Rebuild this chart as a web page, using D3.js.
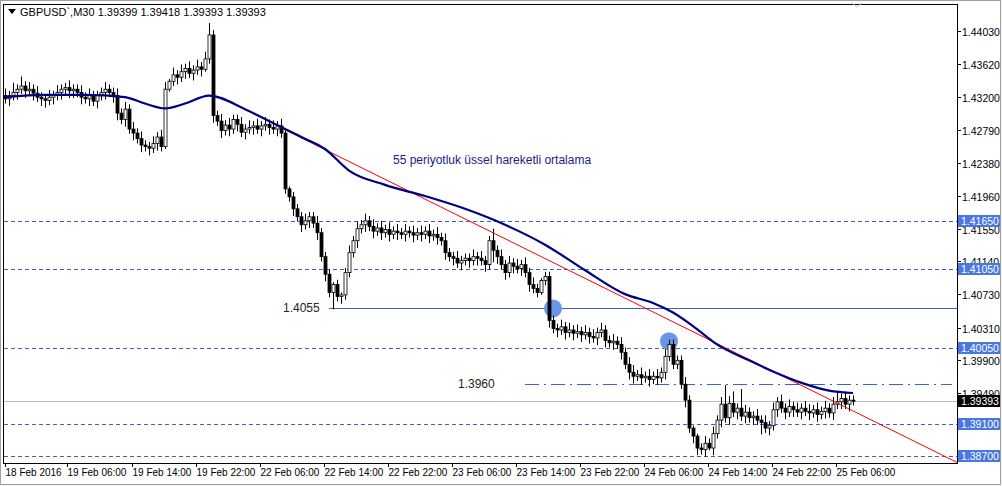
<!DOCTYPE html><html><head><meta charset="utf-8"><script src="https://cdn.jsdelivr.net/npm/d3@7"></script>
<style>body{margin:0;background:#f0f0f0}svg{display:block}</style></head><body><svg id="c" width="1002" height="486"></svg>
<script>
// closes in pips (1.xxxx)
const closes=[4318,4322,4326,4330,4334,4328,4330,4325,4320,4318,4316,4320,4322,4326,4330,4332,4328,4330,4326,4320,4318,4322,4315,4322,4326,4330,4326,4322,
4300,4292,4305,4280,4275,4268,4260,4258,4256,4262,4270,4258,
4330,4340,4348,4345,4352,4356,4350,4354,4358,4355,4368,4398,
4297,4290,4278,4285,4280,4292,4286,4276,4280,4282,4284,4280,4284,4286,4282,4280,4284,
4275,4205,4195,4180,4170,4160,4165,4170,4162,4150,4120,
4098,4075,4085,4070,4072,4100,
4125,4140,4155,4160,
4165,4158,4152,4156,4150,4154,4148,4152,4150,4148,4152,4150,4147,4150,4148,4152,4146,4148,4144,4140,
4125,4120,4118,4112,4115,
4118,4115,4120,4118,4115,4110,4140,
4128,4120,4110,4100,4112,4108,4105,4110,4100,4085,
4080,4075,4090,4095,4040,
4030,4028,4032,4025,4028,4024,4026,4022,4025,4020,4018,4025,4028,
4015,4012,4014,4010,4000,3985,
3975,3970,3972,3968,3970,3966,3970,3968,3975,
3995,4010,3985,
3990,3960,3940,3905,
3895,3880,3878,3886,3880,3898,
3915,3935,3918,3936,3925,3930,3920,3925,
3918,3920,3915,3912,3905,3908,3928,
3938,3930,3925,3932,3928,3925,3930,
3926,3924,3928,3922,3926,3930,3924,
3935,3938,3942,3935,3940,3939.3];
const firstOpen=4322;
// wick lengths, digit x 3 pips
const wickUp=("3242423232232322322323222322"+"323232322323"+"313232323235"+"2232322323232323232"+"1222322322"+"212123"+"2323"+"23232323232323232323"+"22322"+"2323225"+"2323232323"+"21222"+"2323232323232"+"232323"+"323232323"+"222"+"2321"+"123232"+"38352832"+"2323232"+"3232323"+"3232323"+"423223").split("").map(Number);
const wickDn=("2323232323323232332323232323"+"323232323232"+"112323232312"+"3232323232323232322"+"2323232323"+"272322"+"2323"+"23232323232323232323"+"23232"+"3232325"+"3232323232"+"21232"+"3232323232323"+"232323"+"323232323"+"222"+"2323"+"323132"+"32323232"+"3252323"+"2323232"+"3232323"+"232323").split("").map(Number);
// EMA(55) at bar indices
const maIdx=[0,10,20,30,35,40,45,51,60,68,75,80,86,95,105,115,125,135,145,155,162,167,172,178,186,192,199,206,212];
const maVal=[4320,4323,4323,4320,4312,4306,4312,4322,4305,4285,4268,4255,4228,4210,4196,4180,4160,4135,4103,4073,4062,4050,4033,4010,3990,3976,3962,3952,3949];
const timeLabels=["18 Feb 2016","19 Feb 06:00","19 Feb 14:00","19 Feb 22:00","22 Feb 06:00","22 Feb 14:00","22 Feb 22:00","23 Feb 06:00","23 Feb 14:00","23 Feb 22:00","24 Feb 06:00","24 Feb 14:00","24 Feb 22:00","25 Feb 06:00"];
const labelBars=[0,15.5,31.75,47.75,63.75,79.75,95.75,111.75,127.75,143.75,159.75,175.75,191.75,207.75];
const axisTicks=[1.44030,1.43620,1.43200,1.42790,1.42380,1.41960,1.41550,1.41140,1.40730,1.40310,1.39900,1.39490];
const levels=[1.41650,1.41050,1.40050,1.39100,1.38700];
const current=1.39393;
const supportLevel=1.4055, supportBar=81;
const level2=1.3960, level2Bar=130;
const trend=[[68,1.4284],[238,1.3862]];
const circles=[[137,1.4055],[166,1.4014]];

const svg=d3.select("#c");
const L=4,R=957,T=4,B=463;
const x=d3.scaleLinear().domain([0,1]).range([5,9]);
const y=d3.scaleLinear().domain([1.4403,1.3870]).range([31,456]);
const p=v=>1+v/10000;
svg.append("rect").attr("x",0.5).attr("y",0.5).attr("width",1000).attr("height",484).attr("fill","#fff").attr("stroke","#a0a0a0");
const g=svg.append("g");
const f="'Liberation Sans', Arial, sans-serif";
levels.forEach(v=>g.append("line").attr("x1",L).attr("x2",R).attr("y1",Math.round(y(v))+.5).attr("y2",Math.round(y(v))+.5).attr("stroke","#3a5fd0").attr("stroke-dasharray","4,3"));
g.append("line").attr("x1",L).attr("x2",R).attr("y1",Math.round(y(current))+.5).attr("y2",Math.round(y(current))+.5).attr("stroke","#c0c0c0");
g.append("line").attr("x1",x(supportBar)).attr("x2",R).attr("y1",Math.round(y(supportLevel))+.5).attr("y2",Math.round(y(supportLevel))+.5).attr("stroke","#3a5fd0");
g.append("line").attr("x1",x(level2Bar)).attr("x2",R-5).attr("y1",Math.round(y(level2))+.5).attr("y2",Math.round(y(level2))+.5).attr("stroke","#3a5fd0").attr("stroke-dasharray","14,5,2,5");
g.append("text").attr("x",283).attr("y",y(supportLevel)+4).text("1.4055").attr("font-family",f).attr("font-size",12).attr("fill","#222");
g.append("text").attr("x",458).attr("y",y(level2)+4).text("1.3960").attr("font-family",f).attr("font-size",12).attr("fill","#222");
circles.forEach(c=>g.append("circle").attr("cx",x(c[0])).attr("cy",y(c[1])).attr("r",9).attr("fill","#6a96e8"));
let prev=firstOpen;
closes.forEach((c,i)=>{
  const o=prev; prev=c;
  const hi=Math.max(o,c)+wickUp[i]*3, lo=Math.min(o,c)-wickDn[i]*3;
  const cx=Math.round(x(i))+.5;
  g.append("line").attr("x1",cx).attr("x2",cx).attr("y1",y(p(hi))).attr("y2",y(p(lo))).attr("stroke","#000");
  const top=y(p(Math.max(o,c))), bot=y(p(Math.min(o,c)));
  g.append("rect").attr("x",cx-1.5).attr("y",top).attr("width",3).attr("height",Math.max(1,bot-top)).attr("fill",c>=o?"#fff":"#000").attr("stroke","#000").attr("stroke-width",.8);
});
g.append("line").attr("x1",x(trend[0][0])).attr("y1",y(trend[0][1])).attr("x2",x(trend[1][0])).attr("y2",y(trend[1][1])).attr("stroke","#ff0000");
g.append("path").datum(maIdx.map((d,i)=>[d,maVal[i]])).attr("d",d3.line().x(d=>x(d[0])).y(d=>y(p(d[1]))).curve(d3.curveMonotoneX)).attr("fill","none").attr("stroke","#000080").attr("stroke-width",2.2);
g.append("text").attr("x",393).attr("y",164).text("55 periyotluk üssel hareketli ortalama").attr("font-family",f).attr("font-size",12).attr("fill","#1a1a8c");
svg.append("rect").attr("x",L-.5).attr("y",T+.5).attr("width",R-L+1).attr("height",B-T).attr("fill","none").attr("stroke","#000");
svg.append("path").attr("d","M8,9 h8 l-4,5 z").attr("fill","#000");
svg.append("text").attr("x",20).attr("y",16).text("GBPUSD`,M30  1.39399 1.39418 1.39393 1.39393").attr("font-family",f).attr("font-size",11).attr("fill","#000");
svg.append("path").attr("d","M852,3 l5,4 l5,-4").attr("fill","none").attr("stroke","#ccc");
axisTicks.forEach(v=>{const yy=Math.round(y(v))+.5;
  svg.append("line").attr("x1",R).attr("x2",R+4).attr("y1",yy).attr("y2",yy).attr("stroke","#000");
  svg.append("text").attr("x",962).attr("y",yy+4).text(v.toFixed(5)).attr("font-family",f).attr("font-size",10.5).attr("fill","#000");});
function tag(v,bg){const yy=Math.round(y(v));
  svg.append("rect").attr("x",958).attr("y",yy-6).attr("width",42).attr("height",12).attr("fill",bg);
  svg.append("text").attr("x",961).attr("y",yy+4).text(v.toFixed(5)).attr("font-family",f).attr("font-size",10.5).attr("fill","#fff");}
levels.forEach(v=>tag(v,"#4a78e0"));
tag(current,"#000");
labelBars.forEach((b,i)=>{const xx=Math.round(x(b))+.5;
  svg.append("line").attr("x1",xx).attr("x2",xx).attr("y1",B).attr("y2",B+4).attr("stroke","#000");
  svg.append("text").attr("x",xx).attr("y",476).text(timeLabels[i]).attr("font-family",f).attr("font-size",10).attr("fill","#000");});
</script></body></html>
